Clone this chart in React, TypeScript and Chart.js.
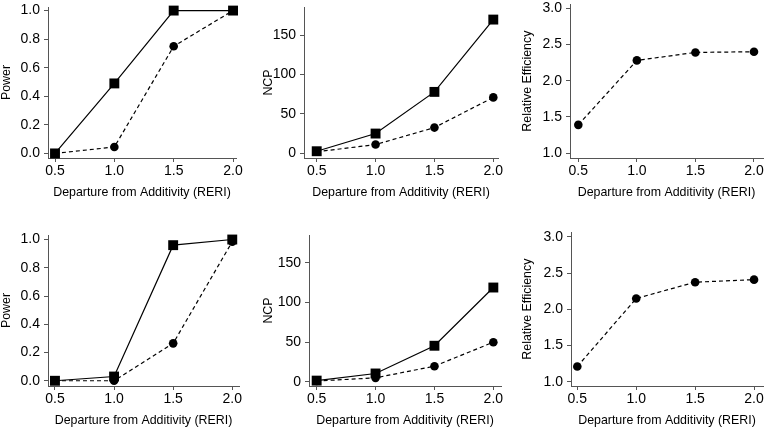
import React, { useEffect, useRef } from "react";
import { Chart, registerables } from "chart.js";

Chart.register(...registerables);

// ---- data ----
const reriValues = [0.5, 1.0, 1.5, 2.0];
const xTickValues = [0.5, 1.0, 1.5, 2.0];
const powerTicks = [0, 0.2, 0.4, 0.6, 0.8, 1.0];
const ncpTicks = [0, 50, 100, 150];
const reTicks = [1.0, 1.5, 2.0, 2.5, 3.0];

const xTitle = "Departure from Additivity (RERI)";
const powerTitle = "Power";
const ncpTitle = "NCP";
const reTitle = "Relative Efficiency";

const powerTopSquare = [0.0, 0.49, 1.0, 1.0];
const powerTopCircle = [0.0, 0.045, 0.75, 1.0];
const ncpTopSquare = [2.5, 25, 78, 170];
const ncpTopCircle = [1.8, 11, 32.6, 71];
const reTopCircle = [1.39, 2.28, 2.39, 2.4];

const powerBottomSquare = [0.0, 0.03, 0.96, 1.0];
const powerBottomCircle = [0.0, 0.0, 0.265, 0.985];
const ncpBottomSquare = [1.5, 10.5, 45.5, 119];
const ncpBottomCircle = [1.0, 5.0, 19.7, 50];
const reBottomCircle = [1.21, 2.15, 2.375, 2.41];

const FONT = "'Liberation Sans', Arial, Helvetica, sans-serif";
const AXIS_COLOR = "#555";

type Series = { values: number[]; square: boolean };
type PanelCfg = {
  left: number; top: number; width: number; height: number;
  yw: number; padRight: number;
  xMin: number; xMax: number; yMin: number; yMax: number;
  yTicks: number[]; yDecimals: number; yTitle: string;
  series: Series[];
};

const panels: PanelCfg[] = [
  { left: 0, top: 0, width: 250, height: 199, yw: 48, padRight: 14, xMin: 0.441, xMax: 2.025, yMin: -0.032, yMax: 1.025,
    yTicks: powerTicks, yDecimals: 1, yTitle: powerTitle,
    series: [{ values: powerTopSquare, square: true }, { values: powerTopCircle, square: false }] },
  { left: 262, top: 0, width: 250, height: 199, yw: 42, padRight: 14, xMin: 0.392, xMax: 2.04, yMin: -6.1, yMax: 186,
    yTicks: ncpTicks, yDecimals: 0, yTitle: ncpTitle,
    series: [{ values: ncpTopSquare, square: true }, { values: ncpTopCircle, square: false }] },
  { left: 521, top: 0, width: 256, height: 199, yw: 49, padRight: 14, xMin: 0.429, xMax: 2.077, yMin: 0.932, yMax: 3.055,
    yTicks: reTicks, yDecimals: 1, yTitle: reTitle,
    series: [{ values: reTopCircle, square: false }] },
  { left: 0, top: 228, width: 253, height: 199, yw: 48, padRight: 14, xMin: 0.441, xMax: 2.057, yMin: -0.037, yMax: 1.032,
    yTicks: powerTicks, yDecimals: 1, yTitle: powerTitle,
    series: [{ values: powerBottomSquare, square: true }, { values: powerBottomCircle, square: false }] },
  { left: 262, top: 228, width: 253, height: 199, yw: 47, padRight: 14, xMin: 0.435, xMax: 2.065, yMin: -5.3, yMax: 185.3,
    yTicks: ncpTicks, yDecimals: 0, yTitle: ncpTitle,
    series: [{ values: ncpBottomSquare, square: true }, { values: ncpBottomCircle, square: false }] },
  { left: 521, top: 228, width: 256, height: 199, yw: 50, padRight: 14, xMin: 0.4465, xMax: 2.076, yMin: 0.941, yMax: 3.064,
    yTicks: reTicks, yDecimals: 1, yTitle: reTitle,
    series: [{ values: reBottomCircle, square: false }] },
];

const X_AXIS_HEIGHT = 41;

function Panel({ cfg }: { cfg: PanelCfg }) {
  const ref = useRef<HTMLCanvasElement | null>(null);
  useEffect(() => {
    if (!ref.current) return;
    const tickFont = { family: FONT, size: 14, lineHeight: 1 };
    const titleFont = { family: FONT, size: 12.4, lineHeight: 1 };
    const chart = new Chart(ref.current, {
      type: "line",
      data: {
        datasets: cfg.series.map((s) => ({
          data: reriValues.map((x, i) => ({ x, y: s.values[i] })),
          borderColor: "#000",
          backgroundColor: "#000",
          borderWidth: 1.2,
          borderDash: s.square ? [] : [4, 3],
          pointStyle: s.square ? "rect" : "circle",
          pointRadius: s.square ? 7 : 4.3,
          pointBorderWidth: 0,
          pointBackgroundColor: "#000",
          pointBorderColor: "#000",
          tension: 0,
          clip: false as any,
        })),
      },
      options: {
        responsive: false,
        maintainAspectRatio: false,
        animation: false,
        events: [],
        layout: { padding: { left: 0, top: 3, right: cfg.padRight, bottom: 0 } },
        plugins: { legend: { display: false }, tooltip: { enabled: false } },
        scales: {
          x: {
            type: "linear",
            min: cfg.xMin,
            max: cfg.xMax,
            afterBuildTicks: (axis: any) => {
              axis.ticks = xTickValues.map((v) => ({ value: v }));
            },
            afterFit: (s: any) => {
              s.height = X_AXIS_HEIGHT;
              s.paddingLeft = 0;
              s.paddingRight = 0;
            },
            ticks: {
              callback: (v: any) => Number(v).toFixed(1),
              font: tickFont,
              color: "#000",
              padding: 2,
              maxRotation: 0,
              autoSkip: false,
            },
            grid: { display: true, drawOnChartArea: false, drawTicks: true, tickLength: 4, color: AXIS_COLOR, lineWidth: 1 },
            border: { display: true, color: AXIS_COLOR, width: 1 },
            title: { display: true, text: xTitle, font: titleFont, color: "#000", padding: { top: 0, bottom: 0 } },
          },
          y: {
            type: "linear",
            min: cfg.yMin,
            max: cfg.yMax,
            afterBuildTicks: (axis: any) => {
              axis.ticks = cfg.yTicks.map((v) => ({ value: v }));
            },
            afterFit: (s: any) => {
              s.width = cfg.yw;
              s.paddingTop = 0;
              s.paddingBottom = 0;
            },
            ticks: {
              callback: (v: any) => Number(v).toFixed(cfg.yDecimals),
              font: tickFont,
              color: "#000",
              padding: 4,
              autoSkip: false,
            },
            grid: { display: true, drawOnChartArea: false, drawTicks: true, tickLength: 4, color: AXIS_COLOR, lineWidth: 1 },
            border: { display: true, color: AXIS_COLOR, width: 1 },
            title: { display: true, text: cfg.yTitle, font: titleFont, color: "#000", padding: { top: 0, bottom: 0 } },
          },
        },
      } as any,
    });
    return () => chart.destroy();
  }, [cfg]);
  return (
    <canvas
      ref={ref}
      width={cfg.width}
      height={cfg.height}
      style={{ position: "absolute", left: cfg.left, top: cfg.top, width: cfg.width, height: cfg.height }}
    />
  );
}

export default function App() {
  return (
    <div
      style={{
        position: "fixed",
        left: 0,
        top: 0,
        width: 764,
        height: 428,
        overflow: "hidden",
        background: "#fff",
      }}
    >
      {panels.map((p, i) => (
        <Panel key={i} cfg={p} />
      ))}
    </div>
  );
}
